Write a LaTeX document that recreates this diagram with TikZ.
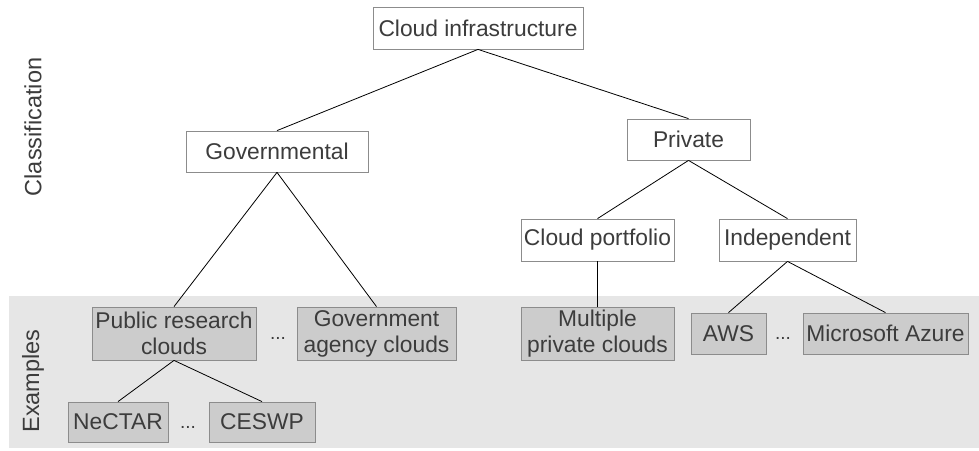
\documentclass[tikz,border=0pt]{standalone}
\usepackage{fontspec}
\setmainfont{Liberation Sans}
\definecolor{txt}{HTML}{3C3C3C}
\definecolor{band}{HTML}{E6E6E6}
\definecolor{boxgray}{HTML}{CCCCCC}
\definecolor{edge}{HTML}{8C8C8C}
\begin{document}
\begin{tikzpicture}[x=1pt,y=-1pt,
  every node/.style={font=\fontsize{22.8}{26}\selectfont, text=txt, inner sep=0pt},
  classbox/.style={draw=edge, fill=white, line width=0.8pt, minimum height=41pt},
  exbox/.style={draw=edge, fill=boxgray, line width=0.8pt, align=center},
  conn/.style={draw=black, line width=0.8pt},
  dotsnode/.style={anchor=base, font=\fontsize{19}{19}\selectfont},
  sidelabel/.style={rotate=90, font=\fontsize{23.5}{26}\selectfont}]
\useasboundingbox (0,0) rectangle (979,450);
\fill[band] (9,296) rectangle (979,448);
% classification nodes
\node[classbox, minimum width=210pt, minimum height=42pt] (root) at (478,28) {Cloud infrastructure};
\node[classbox, minimum width=182pt] (gov) at (277,151.5) {Governmental};
\node[classbox, minimum width=123pt] (priv) at (688.5,139.5) {Private};
\node[classbox, minimum width=153pt, minimum height=42pt] (port) at (597.5,240) {Cloud portfolio};
\node[classbox, minimum width=137pt, minimum height=42pt] (ind) at (787.5,240) {Independent};
% example nodes
\node[exbox, minimum width=164pt, minimum height=53pt] (pub) at (174,333.5) {Public research\\clouds};
\node[exbox, minimum width=159pt, minimum height=53pt] (gac) at (376.5,333.5) {Government\\agency clouds};
\node[exbox, minimum width=153pt, minimum height=53pt] (mpc) at (597.5,333.5) {Multiple\\private clouds};
\node[exbox, minimum width=75pt, minimum height=41pt] (aws) at (728.5,333.5) {AWS};
\node[exbox, minimum width=165pt, minimum height=41pt] (azure) at (885.5,333.5) {Microsoft Azure};
\node[exbox, minimum width=100pt, minimum height=40pt] (nectar) at (118,422) {NeCTAR};
\node[exbox, minimum width=106pt, minimum height=40pt] (ceswp) at (262,422) {CESWP};
% dots
\node[dotsnode] (d1) at (278,339) {...};
\node[dotsnode] (d2) at (783,339) {...};
\node[dotsnode] (d3) at (188,428) {...};
% side labels
\node[sidelabel] (lclass) at (33,127) {Classification};
\node[sidelabel] (lex) at (33,381) {Examples};
% connectors
\draw[conn] (root.south) -- (gov.north);
\draw[conn] (root.south) -- (priv.north);
\draw[conn] (gov.south) -- (pub.north);
\draw[conn] (gov.south) -- (gac.north);
\draw[conn] (priv.south) -- (port.north);
\draw[conn] (priv.south) -- (ind.north);
\draw[conn] (port.south) -- (mpc.north);
\draw[conn] (ind.south) -- (aws.north);
\draw[conn] (ind.south) -- (azure.north);
\draw[conn] (pub.south) -- (nectar.north);
\draw[conn] (pub.south) -- (ceswp.north);
\end{tikzpicture}
\end{document}
